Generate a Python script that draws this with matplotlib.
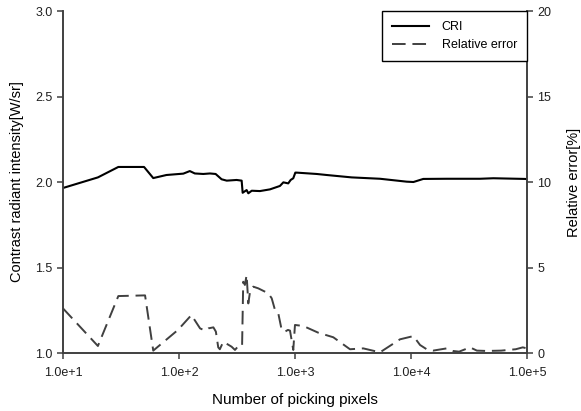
import matplotlib
matplotlib.use('Agg')
import matplotlib.pyplot as plt

plt.rcParams['font.family'] = ['Liberation Sans', 'DejaVu Sans']

# contrast radiant intensity (left axis)
cri_x = [10, 20, 30, 50, 60, 78, 109, 124, 137, 162, 185, 207, 233, 258, 314, 347,
         354, 383, 396, 424, 499, 609, 742, 794, 875, 918, 967, 1007, 1030, 1540,
         1876, 3080, 5410, 9180, 10500, 12770, 20300, 39400, 51300, 96200, 100000]
cri_y = [1.965, 2.027, 2.088, 2.088, 2.023, 2.041, 2.049, 2.064, 2.05, 2.047, 2.05,
         2.047, 2.016, 2.008, 2.012, 2.008, 1.937, 1.953, 1.934, 1.949, 1.947, 1.957,
         1.977, 1.998, 1.992, 2.012, 2.022, 2.055, 2.055, 2.047, 2.041, 2.027, 2.019,
         2.002, 2.0, 2.018, 2.019, 2.019, 2.022, 2.018, 2.017]

# relative error [%] (right axis)
err_x = [10, 20, 30, 51, 60, 98, 128, 152, 168, 179, 198, 208, 218, 225, 241, 284,
         304, 325, 350, 358, 370, 383, 396, 410, 437, 483, 589, 630, 673, 718, 768,
         820, 870, 906, 967, 1000, 1180, 1585, 2140, 2980, 3880, 5410, 8040, 10500,
         11970, 13650, 15500, 20300, 23000, 26000, 32300, 37000, 45000, 60000, 80000,
         92000, 100000]
err_y = [2.61, 0.41, 3.33, 3.37, 0.14, 1.35, 2.22, 1.44, 1.31, 1.44, 1.5, 1.25, 0.33,
         0.22, 0.66, 0.37, 0.18, 0.41, 0.41, 4.17, 3.98, 4.56, 2.9, 3.59, 3.88, 3.78,
         3.49, 3.2, 2.51, 2.32, 1.35, 1.25, 1.35, 1.31, 0.18, 1.64, 1.58, 1.19, 0.92,
         0.22, 0.27, 0.04, 0.8, 0.99, 0.47, 0.22, 0.14, 0.27, 0.12, 0.08, 0.33, 0.14,
         0.12, 0.14, 0.22, 0.33, 0.27]

xticks = [10, 100, 1000, 10000, 100000]
xticklabels = ['1.0e+1', '1.0e+2', '1.0e+3', '1.0e+4', '1.0e+5']

fig = plt.figure(figsize=(5.81, 4.11), dpi=100)
ax = fig.add_axes([0.1084, 0.1411, 0.7986, 0.8321])
ax2 = ax.twinx()

spine_col = '#404040'
l1, = ax.plot(cri_x, cri_y, color='black', lw=1.5, label='CRI')
l2, = ax2.plot(err_x, err_y, color='#404040', lw=1.4, dashes=(7, 3.5), label='Relative error')

ax.set_xscale('log')
ax.set_xlim(10, 100000)
ax.set_ylim(1.0, 3.0)
ax2.set_ylim(0, 20)
ax.set_xticks(xticks)
ax.set_xticklabels(xticklabels)
ax.xaxis.set_minor_locator(matplotlib.ticker.NullLocator())
ax.set_yticks([1.0, 1.5, 2.0, 2.5, 3.0])
ax.set_yticklabels(['1.0', '1.5', '2.0', '2.5', '3.0'])
ax2.set_yticks([0, 5, 10, 15, 20])

for a in (ax, ax2):
    a.spines['top'].set_visible(False)
    for s in a.spines.values():
        s.set_color(spine_col)
        s.set_linewidth(1.2)
    a.tick_params(direction='out', length=4, width=1.1, color=spine_col,
                  labelsize=9, labelcolor='#202020')
ax.tick_params(axis='x', pad=6)

ax.set_xlabel('Number of picking pixels', fontsize=11, labelpad=10)
ax.set_ylabel('Contrast radiant intensity[W/sr]', fontsize=10.5, labelpad=8)
ax2.set_ylabel('Relative error[%]', fontsize=10.5, labelpad=11)

leg = ax2.legend([l1, l2], ['CRI', 'Relative error'], loc='upper right',
                 bbox_to_anchor=(1.0, 1.0), borderaxespad=0, fontsize=9,
                 fancybox=False, framealpha=1, edgecolor='black',
                 handlelength=3.0, handletextpad=1.0, borderpad=0.8,
                 labelspacing=0.5)
leg.get_frame().set_linewidth(1.0)

fig.savefig('out.png', dpi=100)
